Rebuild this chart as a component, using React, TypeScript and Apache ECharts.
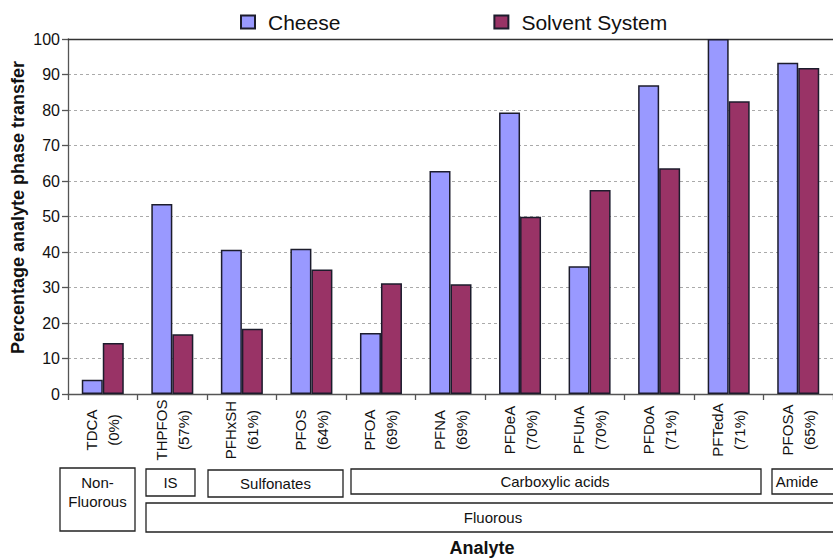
import React, { useEffect, useRef } from "react";
import * as echarts from "echarts";

// Analytes and their phase-transfer efficiency shown under each name
const analytes = ["TDCA", "THPFOS", "PFHxSH", "PFOS", "PFOA", "PFNA", "PFDeA", "PFUnA", "PFDoA", "PFTedA", "PFOSA"];
const efficiency = ["0%", "57%", "61%", "64%", "69%", "69%", "70%", "70%", "71%", "71%", "65%"];

// Percentage analyte phase transfer
const cheese = [4, 53.5, 40.6, 40.9, 17.2, 62.8, 79.3, 36.0, 87.0, 100, 93.3];
const solventSystem = [14.4, 16.8, 18.4, 35.1, 31.2, 30.9, 49.9, 57.5, 63.6, 82.5, 91.8];

const yMin = 0;
const yMax = 100;
const yStep = 10;

// Compound class brackets drawn under the axis labels
const classLabels = ["Non-\nFluorous", "IS", "Sulfonates", "Carboxylic acids", "Amide", "Fluorous"];

const FONT = "'Liberation Sans', Arial, Helvetica, sans-serif";

export default function App() {
  const ref = useRef<HTMLDivElement>(null);

  useEffect(() => {
    if (!ref.current) return;
    const chart = echarts.init(ref.current, null, { renderer: "svg" });

    const boxes = [
      { x: 60, y: 468, w: 75, h: 63, tx: 97.5, ty: 491.5 },
      { x: 146, y: 469, w: 49, h: 27, tx: 170.5, ty: 482.5 },
      { x: 208, y: 470, w: 135, h: 27, tx: 275.5, ty: 483.5 },
      { x: 351, y: 469, w: 410, h: 25, tx: 555, ty: 481.5 },
      { x: 772, y: 469, w: 70, h: 25, tx: 797, ty: 481.5 },
      { x: 146, y: 503, w: 700, h: 29, tx: 493, ty: 517 },
    ];

    const graphic: any[] = [];
    boxes.forEach((b, i) => {
      graphic.push({
        type: "rect",
        shape: { x: b.x, y: b.y, width: b.w, height: b.h },
        style: { fill: "#fff", stroke: "#222", lineWidth: 1.3 },
        z: 5,
      });
      graphic.push({
        type: "text",
        x: b.tx,
        y: b.ty,
        style: {
          text: classLabels[i],
          fill: "#111",
          font: `15px ${FONT}`,
          align: "center",
          verticalAlign: "middle",
          lineHeight: 19,
        },
        z: 6,
      });
    });
    graphic.push({
      type: "text",
      x: 482,
      y: 548,
      style: {
        text: "Analyte",
        fill: "#111",
        font: `bold 18px ${FONT}`,
        align: "center",
        verticalAlign: "middle",
      },
    });
    graphic.push({
      type: "text",
      x: 18,
      y: 207.5,
      rotation: Math.PI / 2,
      style: {
        text: "Percentage analyte phase transfer",
        fill: "#111",
        font: `bold 18px ${FONT}`,
        align: "center",
        verticalAlign: "middle",
      },
    });

    const labels = analytes.map((a, i) => `${a}\n(${efficiency[i]})`);

    chart.setOption({
      animation: false,
      backgroundColor: "#fff",
      textStyle: { fontFamily: FONT },
      grid: { left: 68, top: 39, bottom: 165, right: -10, containLabel: false },
      legend: {
        left: 240,
        top: 11.5,
        padding: 0,
        itemWidth: 14,
        itemHeight: 13,
        itemGap: 153,
        icon: "rect",
        textStyle: { fontSize: 21, color: "#111", fontFamily: FONT, padding: [0, 0, 0, 8] },
        data: ["Cheese", "Solvent System"],
      },
      xAxis: [
        {
          type: "category",
          data: labels,
          position: "bottom",
          axisLine: { show: true, lineStyle: { color: "#555", width: 1.3 } },
          axisTick: { show: true, length: 6, lineStyle: { color: "#555", width: 1.3 } },
          axisLabel: {
            rotate: 90,
            align: "center",
            verticalAlign: "middle",
            margin: 36,
            fontSize: 15,
            lineHeight: 22,
            color: "#111",
            fontFamily: FONT,
            interval: 0,
          },
          splitLine: { show: false },
        },
        {
          type: "category",
          data: labels,
          position: "top",
          axisLine: { show: true, onZero: false, lineStyle: { color: "#333", width: 1.3 } },
          axisTick: { show: false },
          axisLabel: { show: false },
        },
      ],
      yAxis: {
        type: "value",
        min: yMin,
        max: yMax,
        interval: yStep,
        axisLine: { show: true, lineStyle: { color: "#555", width: 1.3 } },
        axisTick: { show: true, length: 6, lineStyle: { color: "#555", width: 1.3 } },
        axisLabel: { margin: 8, fontSize: 16, color: "#111", fontFamily: FONT },
        splitLine: { show: true, lineStyle: { color: "#aaa", type: [3, 3], width: 1 } },
      },
      series: [
        {
          name: "Cheese",
          type: "bar",
          data: cheese,
          barWidth: 21,
          barGap: "0%",
          itemStyle: { color: "#9999FF", borderColor: "#1c1c2c", borderWidth: 1.5 },
        },
        {
          name: "Solvent System",
          type: "bar",
          data: solventSystem,
          barWidth: 21,
          barGap: "0%",
          itemStyle: { color: "#993366", borderColor: "#1c1c2c", borderWidth: 1.5 },
        },
      ],
      graphic,
    });

    return () => chart.dispose();
  }, []);

  return (
    <div
      ref={ref}
      style={{ position: "fixed", left: 0, top: 0, width: 833, height: 559, background: "#fff" }}
    />
  );
}
